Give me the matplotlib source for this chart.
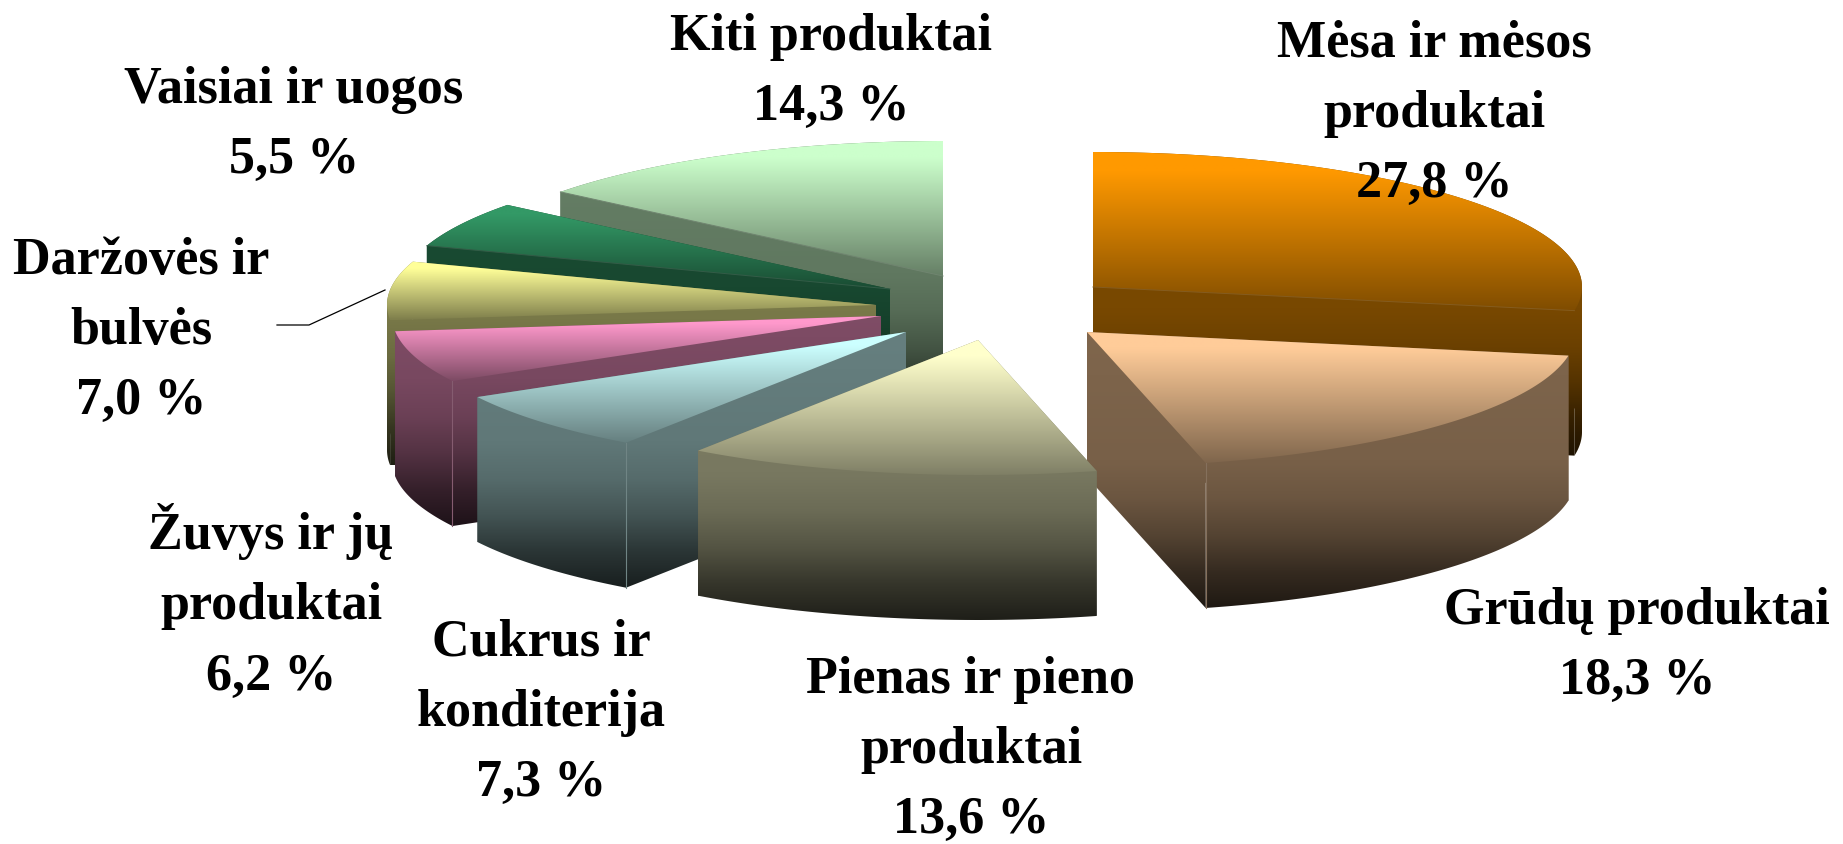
import numpy as np
import matplotlib
matplotlib.use("Agg")
import matplotlib.pyplot as plt
from matplotlib.patches import Polygon

# Data
names = ["Mėsa ir mėsos\nproduktai", "Grūdų produktai", "Pienas ir pieno\nproduktai",
         "Cukrus ir\nkonditerija", "Žuvys ir jų\nproduktai", "Daržovės ir\nbulvės",
         "Vaisiai ir uogos", "Kiti produktai"]
shares = [27.8, 18.3, 13.6, 7.3, 6.2, 7.0, 5.5, 14.3]
colors = ["#ff9900", "#ffcc99", "#ffffcc", "#ccffff", "#ff99cc", "#ffff99", "#339966", "#ccffcc"]

# Layout, in pixels of the 1843x845 picture
apex_x = [1093, 1087, 978, 906, 881, 876, 890, 943]
apex_y = [288, 333, 341, 333, 317, 306, 290, 277]
label_x = [1434, 1637, 971, 541, 271, 141, 294, 831]
label_y = [114, 646, 750, 713, 602, 331, 125, 72]
RX, RY, DEPTH = 489, 135, 145
draw_order = [7, 0, 6, 5, 4, 3, 1, 2]
# which wall edges show a thin light line
vertical_edges = {1: "end", 3: "start", 4: "start"}
radial_edges = {0: "end", 6: "start", 7: "start"}

fig = plt.figure(figsize=(18.43, 8.45), dpi=100)
ax = fig.add_axes([0, 0, 1, 1])


def gradient(poly, rgb, ys, factors):
    # vertical colour ramp clipped to a polygon
    y0, y1 = ys[0], ys[-1]
    rows = np.arange(y0, y1 + 1)
    f = np.interp(rows, ys, factors)
    img = (np.array(rgb)[None, None, :] * f[:, None, None]).clip(0, 1)
    x0, x1 = poly[:, 0].min() - 2, poly[:, 0].max() + 2
    im = ax.imshow(img, extent=(x0, x1, y1, y0), aspect="auto", interpolation="bilinear", zorder=2)
    patch = Polygon(poly, closed=True, transform=ax.transData, fill=False, edgecolor="none")
    ax.add_patch(patch)
    im.set_clip_path(patch)


def ellipse_points(cx, cy, t0, t1):
    t = np.radians(np.linspace(t0, t1, 80))
    return np.column_stack([cx + RX * np.sin(t), cy - RY * np.cos(t)])


def draw_slice(i, t0, t1):
    cx, cy = apex_x[i], apex_y[i]
    rgb = matplotlib.colors.to_rgb(colors[i])
    arc = ellipse_points(cx, cy, t0, t1)
    face = np.vstack([[cx, cy], arc])
    down = np.array([0, DEPTH])
    ends = {"start": arc[0], "end": arc[-1]}

    top, low = face[:, 1].min(), face[:, 1].max()
    wall_ys = [top, low, low + 0.25 * DEPTH, low + 0.5 * DEPTH, low + 0.75 * DEPTH, low + DEPTH]
    wall_f = [0.5, 0.47, 0.42, 0.33, 0.21, 0.12]

    # radial walls and the rim share one ramp
    for p in (arc[0], arc[-1]):
        edge = np.array([[cx, cy], p, p + down, [cx, cy] + down])
        gradient(edge, rgb, wall_ys, wall_f)
    # rim is cut at the widest points, otherwise the fold cancels out in the clip
    cuts = [t0] + [c for c in (90, 270) if t0 < c < t1] + [t1]
    for a, b in zip(cuts[:-1], cuts[1:]):
        part = ellipse_points(cx, cy, a, b)
        gradient(np.vstack([part, part[::-1] + down]), rgb, wall_ys, wall_f)
    gradient(face, rgb, [top, top + 0.12 * (low - top), low], [1.0, 1.0, 0.5])

    # thin light edges on the walls
    light = tuple(min(1, c * 0.4 + 0.12) for c in rgb)
    if i in vertical_edges:
        p = ends[vertical_edges[i]]
        ax.plot([p[0], p[0]], [p[1], p[1] + DEPTH], color=light, lw=0.8, zorder=2)
    if i in radial_edges:
        p = ends[radial_edges[i]]
        ax.plot([cx, p[0]], [cy, p[1]], color=light, lw=0.7, zorder=2)


angles = np.cumsum([0] + shares) * 3.6
for i in draw_order:
    draw_slice(i, angles[i], angles[i + 1])

# leader line of the vegetables label
ax.plot([277, 309, 385], [326, 326, 291], color="black", lw=0.9, zorder=3)

for i in range(len(names)):
    value = f"{shares[i]:.1f} %".replace(".", ",")
    ax.text(label_x[i], label_y[i], names[i] + "\n" + value, ha="center", va="center",
            family="Liberation Serif", weight="bold", fontsize=37.5, linespacing=1.6,
            color="black", zorder=5)

ax.set_xlim(0, 1843)
ax.set_ylim(845, 0)
ax.axis("off")
fig.savefig("out.png", dpi=100, facecolor="white")
